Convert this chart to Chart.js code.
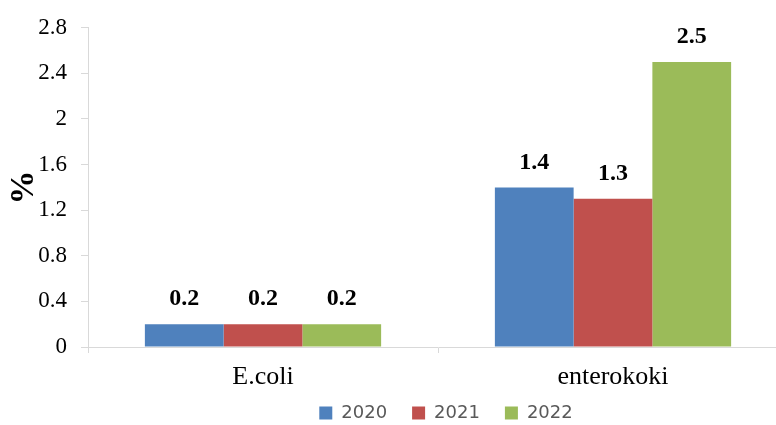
<!DOCTYPE html>
<html>
<head>
<meta charset="utf-8">
<title>E.coli / enterokoki</title>
<script src="https://cdn.jsdelivr.net/npm/chart.js@4.4.1/dist/chart.umd.min.js"></script>
<style>
    html, body { margin: 0; padding: 0; background: #fff; }
    /* the canvas is a bit bigger than the frame, the extra part is cut off */
    .frame { width: 776px; height: 425px; overflow: hidden; position: relative; }
    .frame canvas { position: absolute; left: 0; top: 0; }
</style>
</head>
<body>
<div class="frame">
    <canvas id="bakterijeChart" width="892" height="442"></canvas>
</div>
<script>
// ============================
// Podaci
// ============================
const categories = ['E.coli', 'enterokoki'];
const years = ['2020', '2021', '2022'];
const values2020 = [0.2, 1.4];
const values2021 = [0.2, 1.3];
const values2022 = [0.2, 2.5];
const yTicks = [0, 0.4, 0.8, 1.2, 1.6, 2, 2.4, 2.8];

const colors = ['#4F81BD', '#C0504D', '#9BBB59'];
const serif = '"Times New Roman", "Liberation Serif", serif';

// vrijednost iznad svakog stupca
const valueLabels = {
    id: 'valueLabels',
    afterDatasetsDraw(chart) {
        const ctx = chart.ctx;
        ctx.save();
        ctx.font = 'bold 24px ' + serif;
        ctx.fillStyle = '#000';
        ctx.textAlign = 'center';
        ctx.textBaseline = 'middle';
        chart.data.datasets.forEach((ds, i) => {
            chart.getDatasetMeta(i).data.forEach((bar, j) => {
                ctx.fillText(String(ds.data[j]), bar.x, bar.y - 25);
            });
        });
        ctx.restore();
    }
};

// legenda ima veliki padding (zbog razmaka između stavki),
// pa je nakon layouta pomaknemo malo gore, bliže osi
const LEGEND_TOP = 379;
const legendShift = {
    id: 'legendShift',
    afterLayout(chart) {
        const lg = chart.legend;
        if (!lg) return;
        const h = lg.bottom - lg.top;
        lg.top = LEGEND_TOP;
        lg.bottom = LEGEND_TOP + h;
    }
};

const seriesData = [values2020, values2021, values2022];

new Chart(document.getElementById('bakterijeChart').getContext('2d'), {
    type: 'bar',
    data: {
        labels: categories,
        datasets: years.map((y, i) => ({
            label: y,
            data: seriesData[i],
            backgroundColor: colors[i],
            borderWidth: 0,
            categoryPercentage: 0.675,
            barPercentage: 1
        }))
    },
    options: {
        responsive: false,
        animation: false,
        layout: { padding: { top: 23, left: 0, right: 0, bottom: 0 } },
        plugins: {
            tooltip: { enabled: false },
            legend: {
                position: 'bottom',
                labels: {
                    boxWidth: 13,
                    boxHeight: 13,
                    padding: 25,
                    color: '#595959',
                    font: { family: '"DejaVu Sans", sans-serif', size: 18 }
                }
            }
        },
        scales: {
            x: {
                afterFit: s => { s.height = 42; },
                grid: {
                    drawOnChartArea: false,
                    drawTicks: true,
                    tickLength: 6,
                    color: '#d9d9d9'
                },
                border: { color: '#d9d9d9', width: 1 },
                ticks: {
                    color: '#000',
                    padding: 9,
                    font: { family: serif, size: 26 }
                }
            },
            y: {
                min: 0,
                max: 2.8,
                afterBuildTicks: s => { s.ticks = yTicks.map(v => ({ value: v })); },
                afterFit: s => { s.width = 88; },
                grid: {
                    drawOnChartArea: false,
                    drawTicks: true,
                    tickLength: 7,
                    color: '#d9d9d9'
                },
                border: { color: '#d9d9d9', width: 1 },
                ticks: {
                    color: '#000',
                    padding: 14,
                    font: { family: serif, size: 23 },
                    callback: v => String(v)
                },
                title: {
                    display: true,
                    text: '%',
                    color: '#000',
                    padding: { top: 4, bottom: 0 },
                    font: { family: serif, size: 34, weight: 'bold' }
                }
            },
            // prazna os desno, samo da se suzi područje grafa
            yRight: {
                position: 'right',
                display: true,
                grid: { display: false },
                border: { display: false },
                ticks: { display: false },
                afterFit: s => { s.width = 104; }
            }
        }
    },
    plugins: [valueLabels, legendShift]
});
</script>
</body>
</html>
